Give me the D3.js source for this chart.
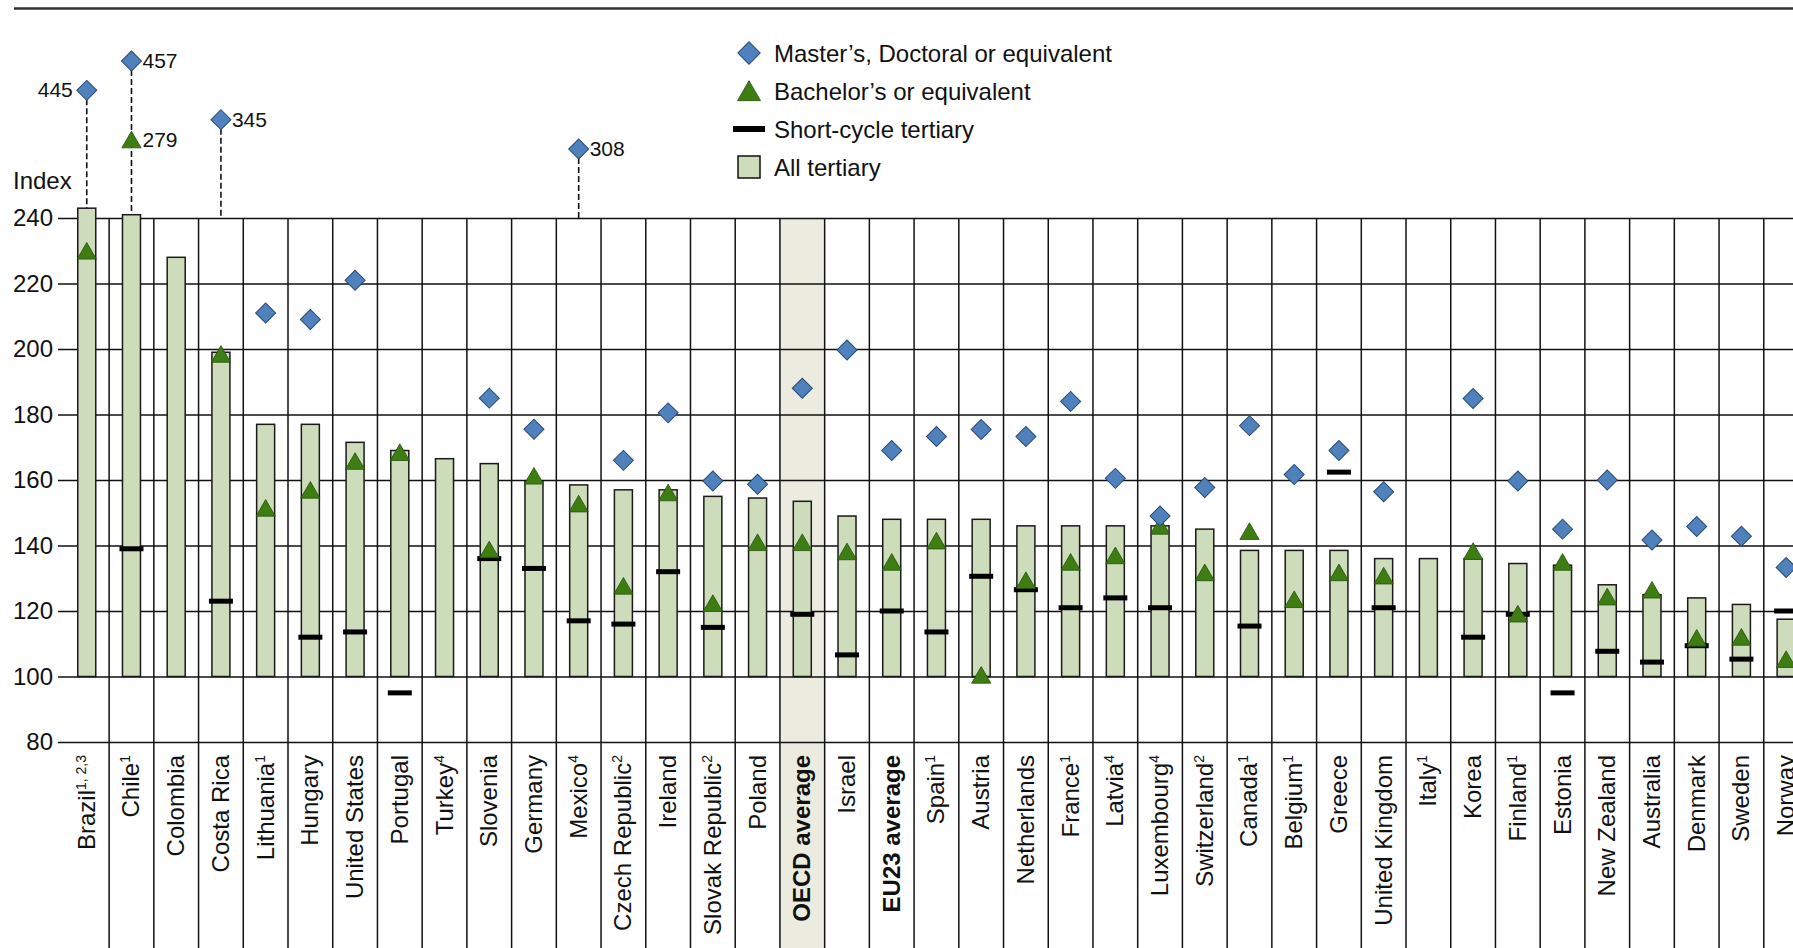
<!DOCTYPE html>
<html>
<head>
<script src="https://d3js.org/d3.v7.min.js"></script>
<style>
	body { margin: 0; background: #fff; }
	text { font-family: "Liberation Sans", Arial, sans-serif; fill: #111; }
</style>
</head>
<body>
<script>
	var width = 1793;
	var height = 948;

	// categories, with footnote marks shown as superscripts
	var categories = ["Brazil", "Chile", "Colombia", "Costa Rica", "Lithuania", "Hungary", "United States",
		"Portugal", "Turkey", "Slovenia", "Germany", "Mexico", "Czech Republic", "Ireland", "Slovak Republic",
		"Poland", "OECD average", "Israel", "EU23 average", "Spain", "Austria", "Netherlands", "France",
		"Latvia", "Luxembourg", "Switzerland", "Canada", "Belgium", "Greece", "United Kingdom", "Italy",
		"Korea", "Finland", "Estonia", "New Zealand", "Australia", "Denmark", "Sweden", "Norway"]
	var notes = ["1, 2,3", "1", "", "", "1", "", "", "", "4", "", "", "4", "2", "", "2",
		"", "", "", "", "1", "", "", "1",
		"4", "4", "2", "1", "1", "", "", "1",
		"", "1", "", "", "", "", "", ""]
	var averages = ["OECD average", "EU23 average"]
	var shaded = ["OECD average"]

	// series values (index, upper secondary = 100)
	var allTertiary = [243, 241, 228, 199, 177, 177, 171.5, 169, 166.5, 165, 159.5, 158.5, 157, 157, 155,
		154.5, 153.5, 149, 148, 148, 148, 146, 146, 146, 146, 145, 138.5, 138.5, 138.5, 136, 136,
		136, 134.5, 134, 128, 125, 124, 122, 117.5]
	var bachelor = [230, 279, null, 198.5, 151.5, 157, 165.8, 168.5, null, 138.8, 161.3, 152.8, 127.7, 156.2, 122.4,
		141, 141, 138.2, 135, 141.5, 100.5, 129.4, 135, 137, 146, 131.8, 144.4, 123.6, 131.8, 130.8, null,
		138.3, 119.2, 135, 124.4, 126.5, 111.8, 112.1, 105.3]
	var master = [445, 457, null, 345, 211, 209, 221, null, null, 185, 175.5, 308, 166, 180.5, 159.7,
		158.7, 188, 199.7, 169, 173.3, 175.4, 173.3, 184, 160.5, 149, 157.7, 176.6, 161.7, 169, 156.4, null,
		184.9, 159.7, 145, 160, 141.7, 145.8, 142.8, 133.3]
	var shortCycle = [null, 139, null, 123, null, 112, 113.6, 95, null, 136, 133, 117, 116, 132, 115,
		null, 119, 106.6, 120, 113.6, 130.6, 126.5, 121, 124, 121, null, 115.4, null, 162.4, 121, null,
		112, 119, 95, 107.7, 104.4, 109.4, 105.3, 120]

	var yTicks = [80, 100, 120, 140, 160, 180, 200, 220, 240]
	var legendLabels = ["Master\u2019s, Doctoral or equivalent", "Bachelor\u2019s or equivalent",
		"Short-cycle tertiary", "All tertiary"]

	var barFill = "#cddcbb"
	var diamondFill = "#4f81bd"
	var triFill = "#3e7d12"

	var data = categories.map(function(c, i) {
		return { name: c, note: notes[i], all: allTertiary[i], bach: bachelor[i],
			mast: master[i], short: shortCycle[i] }
	})

	var svg = d3.select("body")
		.append("svg")
		.attr("width", width)
		.attr("height", height)

	// scales
	var x = d3.scaleBand()
		.domain(categories)
		.range([64.4, 1808.5])
	var bw = x.bandwidth()
	var cx = function(name) { return x(name) + bw / 2 }

	var y = d3.scaleLinear()
		.domain([80, 240])
		.range([742, 218])
	var yMax = y.domain()[1]

	// values beyond the axis are stacked above it by rank
	var offValues = master.filter(function(v) { return v != null && v > yMax }).sort(d3.ascending)
	var yOff = d3.scalePoint()
		.domain(offValues)
		.range([149, 61])

	// top rule
	svg.append("line")
		.attr("x1", 14).attr("x2", width)
		.attr("y1", 8.5).attr("y2", 8.5)
		.style("stroke", "#333").style("stroke-width", 2.5)

	// shaded average column
	svg.selectAll(".shade")
		.data(shaded)
		.enter()
		.append("rect")
		.attr("x", d => x(d))
		.attr("y", y(yMax))
		.attr("width", bw)
		.attr("height", height - y(yMax))
		.style("fill", "#ecebe0")

	// vertical separators
	var seps = categories.slice(1).map(c => x(c)).concat([x.range()[1]])
	svg.selectAll(".sep")
		.data(seps)
		.enter()
		.append("line")
		.attr("x1", d => d).attr("x2", d => d)
		.attr("y1", y(yMax)).attr("y2", height)
		.style("stroke", "#111").style("stroke-width", 1.5)

	// y axis with gridlines
	var yAxis = svg.append("g")
		.attr("transform", "translate(58,0)")
		.call(d3.axisLeft(y).tickValues(yTicks).tickSize(-(width - 58)).tickPadding(5))
	yAxis.select(".domain").remove()
	yAxis.selectAll("line").style("stroke", "#111").style("stroke-width", 1.5)
	yAxis.selectAll("text")
		.style("font-size", "24px")
		.style("font-family", "'Liberation Sans', Arial, sans-serif")
		.style("fill", "#111")

	svg.append("text")
		.attr("x", 13).attr("y", 189)
		.style("font-size", "24px")
		.text("Index")

	// dashed leaders for values off the scale
	var offCols = data.filter(d => d.mast != null && d.mast > yMax)
	svg.selectAll(".lead")
		.data(offCols)
		.enter()
		.append("line")
		.attr("x1", d => cx(d.name)).attr("x2", d => cx(d.name))
		.attr("y1", d => yOff(d.mast)).attr("y2", y(yMax))
		.style("stroke", "#111").style("stroke-width", 1.6)
		.style("stroke-dasharray", "6,3")

	// all tertiary bars
	svg.selectAll(".bar")
		.data(data)
		.enter()
		.append("rect")
		.attr("x", d => cx(d.name) - 9)
		.attr("y", d => y(d.all))
		.attr("width", 18)
		.attr("height", d => y(100) - y(d.all))
		.style("fill", barFill)
		.style("stroke", "#1a1a1a")
		.style("stroke-width", 1.5)

	// short-cycle marks
	svg.selectAll(".short")
		.data(data.filter(d => d.short != null))
		.enter()
		.append("rect")
		.attr("x", d => cx(d.name) - 12)
		.attr("y", d => y(d.short) - 2.5)
		.attr("width", 24)
		.attr("height", 5)
		.style("fill", "#000")

	// bachelor triangles
	var tri = d3.symbol().type(d3.symbolTriangle).size(160)
	var triY = function(d) {
		if (d.bach <= yMax) return y(d.bach)
		return (yOff(d.mast) + y(yMax)) / 2
	}
	svg.selectAll(".tri")
		.data(data.filter(d => d.bach != null))
		.enter()
		.append("path")
		.attr("d", tri)
		.attr("transform", d => "translate(" + cx(d.name) + "," + (triY(d) + 2.8) + ")")
		.style("fill", triFill)
		.style("stroke", "#24500a")
		.style("stroke-width", 0.8)

	// master diamonds
	var dia = d3.symbol().type(d3.symbolSquare).size(200)
	var diaY = function(d) { return d.mast > yMax ? yOff(d.mast) : y(d.mast) }
	svg.selectAll(".dia")
		.data(data.filter(d => d.mast != null))
		.enter()
		.append("path")
		.attr("d", dia)
		.attr("transform", d => "translate(" + cx(d.name) + "," + diaY(d) + ") rotate(45)")
		.style("fill", diamondFill)
		.style("stroke", "#2b4a73")
		.style("stroke-width", 1)

	// value labels of off-scale markers
	var offLabels = []
	data.forEach(function(d, i) {
		if (d.mast != null && d.mast > yMax) offLabels.push({ name: d.name, v: d.mast, yy: diaY(d), left: i === 0 })
		if (d.bach != null && d.bach > yMax) offLabels.push({ name: d.name, v: d.bach, yy: triY(d), left: i === 0 })
	})
	svg.selectAll(".offlab")
		.data(offLabels)
		.enter()
		.append("text")
		.attr("x", d => d.left ? cx(d.name) - 14 : cx(d.name) + 11)
		.attr("y", d => d.yy + 7)
		.attr("text-anchor", d => d.left ? "end" : "start")
		.style("font-size", "21px")
		.text(d => d.v)

	// category labels
	var labels = svg.selectAll(".cat")
		.data(data)
		.enter()
		.append("text")
		.attr("transform", d => "translate(" + (cx(d.name) + 8) + ",755) rotate(-90)")
		.attr("text-anchor", "end")
		.style("font-size", "24px")
		.style("font-weight", d => averages.indexOf(d.name) >= 0 ? "bold" : "normal")
	labels.append("tspan").text(d => d.name)
	labels.filter(d => d.note !== "")
		.append("tspan")
		.attr("dy", -9)
		.style("font-size", "14px")
		.text(d => d.note)

	// legend
	var lg = svg.append("g").attr("transform", "translate(749,53)")
	var rowH = 38
	lg.append("path")
		.attr("d", d3.symbol().type(d3.symbolSquare).size(250))
		.attr("transform", "rotate(45)")
		.style("fill", diamondFill).style("stroke", "#2b4a73").style("stroke-width", 1)
	lg.append("path")
		.attr("d", d3.symbol().type(d3.symbolTriangle).size(230))
		.attr("transform", "translate(0," + (rowH + 3) + ")")
		.style("fill", triFill).style("stroke", "#24500a").style("stroke-width", 0.8)
	lg.append("rect")
		.attr("x", -16).attr("y", 2 * rowH - 3)
		.attr("width", 32).attr("height", 6)
		.style("fill", "#000")
	lg.append("rect")
		.attr("x", -11).attr("y", 3 * rowH - 11)
		.attr("width", 22).attr("height", 22)
		.style("fill", barFill).style("stroke", "#111").style("stroke-width", 1.5)
	lg.selectAll(".lt")
		.data(legendLabels)
		.enter()
		.append("text")
		.attr("x", 25)
		.attr("y", (d, i) => i * rowH + 8.5)
		.style("font-size", "24px")
		.text(d => d)
</script>
</body>
</html>
